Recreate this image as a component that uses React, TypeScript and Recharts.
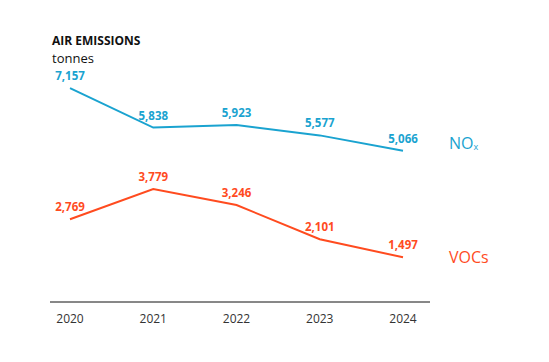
import React from 'react';
import { LineChart, Line, XAxis, YAxis, LabelList } from 'recharts';

const years = ['2020', '2021', '2022', '2023', '2024'];
const noxValues = [7157, 5838, 5923, 5577, 5066];
const vocValues = [2769, 3779, 3246, 2101, 1497];

const data = years.map((year, i) => ({ year, nox: noxValues[i], voc: vocValues[i] }));

const NOX = '#1aa3d0';
const VOC = '#ff4b1f';
const FONT = '"Open Sans", sans-serif';

const makeLabel = (color: string, name: React.ReactNode, nameDy: number) => (props: any) => {
  const { x, y, value, index } = props;
  return (
    <g>
      <text x={x} y={y - 8} textAnchor="middle" fill={color} fontSize={11.5} fontWeight={700} fontFamily={FONT}>
        {Number(value).toLocaleString('en-US')}
      </text>
      {index === years.length - 1 && (
        <text x={x + 46} y={y + nameDy} fill={color} fontSize={16} fontFamily={FONT}>
          {name}
        </text>
      )}
    </g>
  );
};

export default function App() {
  return (
    <div style={{ position: 'absolute', left: 0, top: 0, width: 549, height: 362, background: '#fff', fontFamily: FONT }}>
      <div style={{ position: 'absolute', left: 52, top: 32, fontSize: 12, fontWeight: 700, color: '#111' }}>AIR EMISSIONS</div>
      <div style={{ position: 'absolute', left: 52, top: 49, fontSize: 13, color: '#111' }}>tonnes</div>
      <LineChart width={549} height={362} data={data} margin={{ top: 63, right: 119, left: 50, bottom: 30 }}>
        <XAxis
          dataKey="year"
          height={30}
          padding={{ left: 20, right: 27 }}
          tickLine={false}
          axisLine={{ stroke: '#111', strokeWidth: 1 }}
          tick={{ fill: '#333', fontSize: 12, fontFamily: FONT }}
          tickMargin={6}
        />
        <YAxis hide domain={[0, 8000]} />
        <Line dataKey="nox" stroke={NOX} strokeWidth={2} dot={false} isAnimationActive={false}>
          <LabelList dataKey="nox" content={makeLabel(NOX, <>NO<tspan fontSize={9} dy={1}>x</tspan></>, -2)} />
        </Line>
        <Line dataKey="voc" stroke={VOC} strokeWidth={2} dot={false} isAnimationActive={false}>
          <LabelList dataKey="voc" content={makeLabel(VOC, 'VOCs', 6)} />
        </Line>
      </LineChart>
    </div>
  );
}
